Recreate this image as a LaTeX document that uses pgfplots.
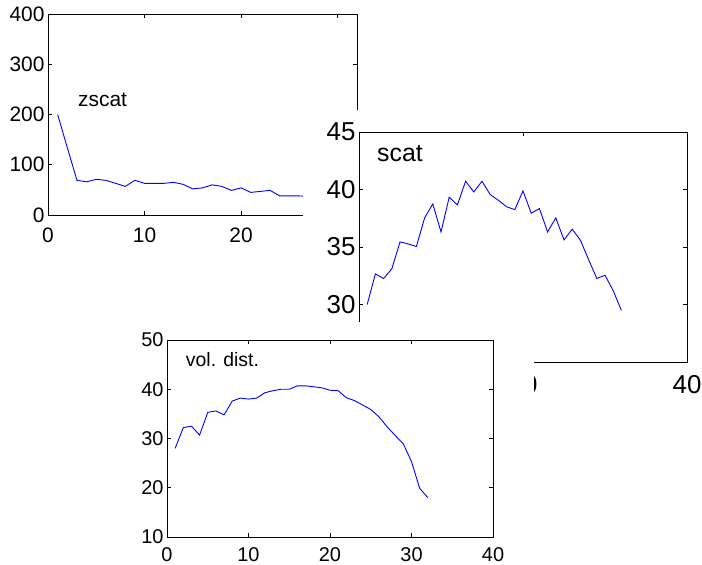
\documentclass[border=0pt]{standalone}
\usepackage{pgfplots}
\pgfplotsset{compat=1.18}
\usepackage{fontspec}
\setmainfont{Liberation Sans}

\pgfplotsset{
  mat/.style={
    scale only axis, anchor=north west, no marks,
    axis line style={line width=1bp, black},
    tick style={line width=0.8bp, black},
    major tick length=4bp, tick align=inside,
    axis background/.style={fill=white},
    /pgf/number format/assume math mode=true,
  },
  trace/.style={blue, line width=0.9bp, mark=none},
}

\begin{document}
\begin{tikzpicture}
\path[use as bounding box] (0,0) rectangle (702bp,-565bp);

% zscat (top left)
\begin{axis}[mat, at={(48bp,-14bp)}, width=309bp, height=201bp,
  xmin=0, xmax=32, ymin=0, ymax=400,
  xtick={0,10,20,30}, xticklabels={0,10,20,},
  ytick={0,100,200,300,400},
  ticklabel style={font=\fontsize{21}{25}\selectfont},
  xticklabel style={yshift=-9bp}]
  \addplot[trace] coordinates {
    (1,200)(2,134)(3,69)(4,66)(5,71)(6,69)(7,63)(8,57)(9,69)(10,63)
    (11,63)(12,63)(13,65)(14,61)(15,52)(16,54)(17,60)(18,57)(19,49)(20,54)
    (21,45)(22,47)(23,49)(24,38)(25,38)(26,38)(27,37)(28,36)(29,37)(30,35)
    (31,35)(32,34)};
  \node[anchor=base west, inner sep=0, font=\fontsize{21}{25}\selectfont]
    at (axis cs:3.1,215) {zscat};
\end{axis}

% cover for scat
\fill[white] (303bp,-110bp) rectangle (702bp,-410bp);
\begin{axis}[mat, at={(359bp,-132bp)}, width=328bp, height=230bp,
  xmin=0, xmax=40, ymin=25, ymax=45,
  xtick={0,20,40}, xticklabels={,20,40}, ytick={25,30,35,40,45},
  yticklabels={,30,35,40,45},
  ticklabel style={font=\fontsize{26}{30}\selectfont},
  xticklabel style={yshift=-10bp}]
  \addplot[trace] coordinates {
    (1,30.0)(2,32.66)(3,32.26)(4,33.1)(5,35.44)(6,35.27)(7,35.04)(8,37.53)
    (9,38.75)(10,36.31)(11,39.33)(12,38.66)(13,40.72)(14,39.79)(15,40.72)
    (16,39.56)(17,39.06)(18,38.5)(19,38.25)(20,39.88)(21,37.94)(22,38.34)
    (23,36.31)(24,37.53)(25,35.62)(26,36.55)(27,35.59)(28,33.9)(29,32.26)
    (30,32.55)(31,31.2)(32,29.48)};
  \node[anchor=base west, inner sep=0, font=\fontsize{25}{29}\selectfont]
    at (axis cs:2.2,42.4) {scat};
\end{axis}

% cover for vol. dist.
\fill[white] (100bp,-322bp) rectangle (534bp,-565bp);
\begin{axis}[mat, at={(167bp,-340bp)}, width=326bp, height=197bp,
  xmin=0, xmax=40, ymin=10, ymax=50,
  xtick={0,10,20,30,40}, ytick={10,20,30,40,50},
  ticklabel style={font=\fontsize{20}{24}\selectfont},
  xticklabel style={yshift=-7bp}]
  \addplot[trace] coordinates {
    (1,28.0)(2,32.2)(3,32.5)(4,30.7)(5,35.3)(6,35.6)(7,34.8)(8,37.6)
    (9,38.2)(10,38.0)(11,38.2)(12,39.3)(13,39.7)(14,40.0)(15,40.0)
    (16,40.7)(17,40.7)(18,40.5)(19,40.3)(20,39.8)(21,39.7)(22,38.3)
    (23,37.7)(24,36.8)(25,35.9)(26,34.4)(27,32.4)(28,30.6)(29,28.9)
    (30,25.3)(31,19.9)(32,18.0)};
  \node[anchor=base west, inner sep=0, font=\fontsize{19.5}{23}\selectfont]
    at (axis cs:2.3,44.6) {vol. dist.};
\end{axis}
\end{tikzpicture}
\end{document}
